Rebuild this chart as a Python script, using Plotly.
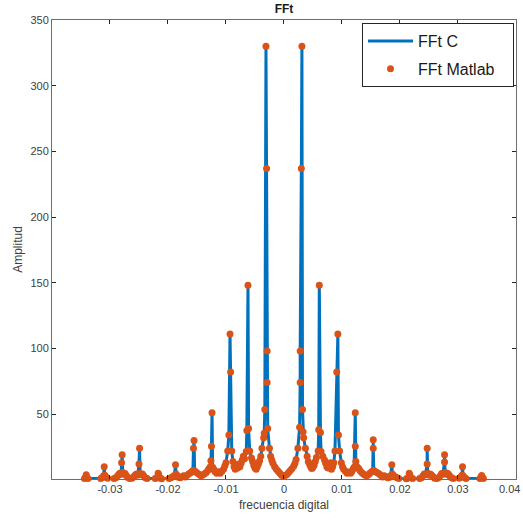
import plotly.graph_objects as go

# frequency (digital) of each FFT bin
freq = [
    -0.0344, -0.0342, -0.0341, -0.0340, -0.0338,
    -0.0316, -0.0313, -0.0311, -0.0310, -0.0309, -0.0307, -0.0304,
    -0.0293, -0.0290, -0.0287, -0.0285, -0.0283, -0.0281, -0.0280, -0.0279, -0.0278, -0.0276, -0.0274, -0.0272, -0.0269, -0.0266,
    -0.0262, -0.0259, -0.0256, -0.0254, -0.0252, -0.0250, -0.0249, -0.0248, -0.0246, -0.0244, -0.0242, -0.0239, -0.0236,
    -0.0222, -0.0219, -0.0217, -0.0216, -0.0214, -0.0211,
    -0.0198, -0.0195, -0.0192, -0.0189, -0.0187, -0.0186, -0.0184, -0.0182, -0.0179, -0.0176,
    -0.0173, -0.0170, -0.0167, -0.0164, -0.0161, -0.0159, -0.0157, -0.0156, -0.0155, -0.0154, -0.0152, -0.0149, -0.0146, -0.0143, -0.0140,
    -0.0137, -0.0134, -0.0131, -0.0129, -0.0127, -0.0126, -0.0125, -0.0124, -0.0123, -0.0121, -0.0119, -0.0116, -0.0113,
    -0.0110, -0.0107, -0.0104, -0.0102, -0.0100, -0.0097, -0.0095, -0.0093, -0.0092, -0.0090, -0.0088, -0.0086, -0.0084, -0.0082, -0.0080, -0.0078,
    -0.0076, -0.0074, -0.0072, -0.0070, -0.0068, -0.0065, -0.0064, -0.0062, -0.0061, -0.0059, -0.0056, -0.0054, -0.0052, -0.0050, -0.0048, -0.0046,
    -0.0044, -0.0042, -0.0040, -0.0038, -0.0035, -0.0034, -0.0033, -0.0031, -0.0030, -0.0029, -0.0029, -0.0028, -0.0025, -0.0023, -0.0021, -0.0019,
    -0.0016, -0.0013, -0.0010, -0.0007, -0.0004, -0.0001,
    0.0002, 0.0005, 0.0008, 0.0011, 0.0014, 0.0017, 0.0019, 0.0021, 0.0024, 0.0027, 0.0028, 0.0028, 0.0030, 0.0031, 0.0032, 0.0033,
    0.0034, 0.0037, 0.0040, 0.0042, 0.0044, 0.0046, 0.0048, 0.0050, 0.0052, 0.0054, 0.0056, 0.0059, 0.0060, 0.0061, 0.0063, 0.0064,
    0.0067, 0.0070, 0.0072, 0.0074, 0.0076, 0.0078, 0.0080, 0.0082, 0.0084, 0.0086, 0.0088, 0.0091, 0.0093, 0.0094, 0.0096, 0.0099,
    0.0101, 0.0103, 0.0106, 0.0109,
    0.0112, 0.0115, 0.0117, 0.0119, 0.0121, 0.0123, 0.0123, 0.0124, 0.0126, 0.0129, 0.0131, 0.0134, 0.0137,
    0.0140, 0.0143, 0.0146, 0.0148, 0.0151, 0.0153, 0.0154, 0.0154, 0.0155, 0.0158, 0.0161, 0.0164, 0.0167, 0.0170, 0.0173,
    0.0176, 0.0179, 0.0182, 0.0184, 0.0186, 0.0187, 0.0189, 0.0192, 0.0195, 0.0198,
    0.0211, 0.0214, 0.0216, 0.0217, 0.0219, 0.0222,
    0.0234, 0.0237, 0.0240, 0.0242, 0.0244, 0.0247, 0.0247, 0.0248, 0.0250, 0.0252, 0.0254, 0.0257, 0.0260,
    0.0264, 0.0267, 0.0270, 0.0272, 0.0274, 0.0277, 0.0277, 0.0278, 0.0280, 0.0282, 0.0284, 0.0286, 0.0289, 0.0292,
    0.0302, 0.0305, 0.0307, 0.0308, 0.0309, 0.0311, 0.0314,
    0.0338, 0.0340, 0.0341, 0.0342, 0.0344,
]

# amplitude of each bin (FFT computed in C)
amp_fft_c = [
    1.0, 2.0, 3.8, 2.2, 1.0,
    1.0, 1.8, 3.0, 10.0, 3.5, 2.2, 1.2,
    0.9, 1.5, 2.8, 4.0, 5.0, 4.2, 13.0, 19.0, 5.5, 4.5, 4.8, 3.2, 1.8, 1.0,
    1.2, 2.5, 3.8, 4.5, 3.5, 12.0, 24.0, 4.8, 4.0, 4.5, 3.0, 1.5, 0.9,
    0.9, 1.6, 5.0, 3.8, 1.4, 0.8,
    0.9, 1.5, 2.4, 3.2, 11.5, 4.4, 3.0, 2.0, 1.6, 2.4,
    3.0, 2.2, 3.4, 4.6, 5.4, 6.2, 7.0, 24.0, 30.0, 6.6, 6.0, 5.0, 4.0, 3.0, 3.6,
    4.6, 5.6, 7.2, 8.6, 10.0, 14.5, 25.5, 51.0, 9.5, 8.0, 6.4, 5.0, 6.2,
    5.0, 6.5, 8.2, 10.5, 13.0, 22.0, 34.0, 111.0, 82.0, 22.0, 14.0, 10.0, 8.0, 10.5, 9.0, 12.0,
    10.0, 12.5, 15.0, 18.0, 16.0, 21.5, 37.5, 148.0, 39.0, 22.0, 16.5, 14.0, 11.0, 9.0, 8.0, 10.0,
    12.0, 14.5, 18.0, 24.0, 32.0, 35.5, 53.5, 330.0, 237.0, 98.0, 74.0, 39.0, 24.0, 18.0, 15.0, 12.5,
    10.0, 8.0, 6.5, 5.0, 3.5, 2.8,
    3.2, 4.0, 5.5, 7.0, 8.5, 10.5, 12.5, 15.5, 24.0, 40.0, 74.0, 98.0, 237.0, 330.0, 53.5, 36.5,
    32.0, 24.0, 18.0, 14.0, 12.0, 10.0, 8.5, 9.5, 11.0, 14.0, 17.0, 22.0, 38.0, 148.0, 36.0, 21.5,
    18.0, 15.0, 12.5, 10.0, 9.0, 11.0, 13.0, 8.0, 10.0, 13.0, 22.0, 82.0, 111.0, 34.0, 22.0, 13.0,
    10.0, 8.0, 6.5, 5.0,
    6.0, 5.0, 6.4, 8.0, 9.5, 51.0, 25.5, 14.0, 10.0, 8.5, 7.0, 5.5, 4.5,
    3.5, 3.0, 4.0, 5.0, 6.0, 6.6, 30.5, 24.0, 7.0, 6.2, 5.4, 4.6, 3.4, 2.2, 3.0,
    2.4, 1.6, 2.0, 3.0, 11.5, 4.4, 3.2, 2.4, 1.5, 0.9,
    0.8, 1.4, 5.0, 3.8, 1.6, 0.9,
    0.9, 1.5, 3.0, 4.5, 4.0, 12.0, 24.0, 4.8, 3.5, 4.5, 3.8, 2.5, 1.2,
    1.0, 1.8, 3.2, 4.8, 4.5, 13.5, 19.0, 5.5, 4.2, 5.0, 4.0, 2.8, 1.5, 0.9,
    1.2, 2.2, 3.5, 10.0, 3.0, 1.8, 1.0,
    1.0, 2.2, 3.3, 2.0, 1.0,
]

# amplitude of each bin (FFT computed in Matlab) - identical readings
amp_fft_matlab = list(amp_fft_c)

x_ticks = [-0.03, -0.02, -0.01, 0, 0.01, 0.02, 0.03, 0.04]
x_tick_text = ["-0.03", "-0.02", "-0.01", "0", "0.01", "0.02", "0.03", ""]
x_last_label = "0.04"   # drawn slightly inward so it is not cut at the page edge
y_ticks = [50, 100, 150, 200, 250, 300, 350]

FONT = "Liberation Sans, Arial, Helvetica, sans-serif"
AX = "#262626"

fig = go.Figure()
fig.add_trace(go.Scatter(
    x=freq, y=amp_fft_c, mode="lines", name="FFt C", legendgroup="c",
    line=dict(color="#0072BD", width=3),
))
fig.add_trace(go.Scatter(
    x=freq, y=amp_fft_matlab, mode="markers", name="FFt Matlab&nbsp;&nbsp;&nbsp;",
    legendgroup="m",
    marker=dict(color="#D95319", size=7), cliponaxis=False,
))

axis_common = dict(
    showline=True, linecolor="#6e6e6e", linewidth=1, mirror="ticks",
    ticks="inside", ticklen=4, tickcolor=AX, tickwidth=1,
    showgrid=False, zeroline=False, automargin=False,
    tickfont=dict(family=FONT, size=11, color="#404040"),
)

fig.update_layout(
    width=523, height=520,
    margin=dict(l=52, r=7, t=20, b=41),
    paper_bgcolor="white", plot_bgcolor="white",
    font=dict(family=FONT, color=AX),
    title=dict(text="<b>FFt</b>", x=284 / 523, xanchor="center",
               y=1 - 9 / 520, yanchor="middle", yref="container",
               font=dict(size=12, color="#1a1a1a", family=FONT)),
    xaxis=dict(range=[-0.04, 0.04002], tickvals=x_ticks, ticktext=x_tick_text,
               title=dict(text="frecuencia digital", font=dict(size=12, family=FONT, color="#404040"), standoff=6),
               **axis_common),
    yaxis=dict(range=[0.6, 350], tickvals=y_ticks,
               title=dict(text="Amplitud", font=dict(size=12, family=FONT, color="#404040"), standoff=5),
               **axis_common),
    showlegend=True,
    legend=dict(x=0.9957, y=0.9935, xanchor="right", yanchor="top",
                bgcolor="white", bordercolor=AX, borderwidth=1,
                font=dict(size=16, family=FONT, color="#1a1a1a"),
                itemwidth=45, traceorder="grouped", tracegroupgap=4),
    annotations=[dict(text=x_last_label, xref="paper", yref="paper",
                      x=1.0, y=0, xanchor="right", yanchor="middle",
                      xshift=6, yshift=-10, showarrow=False,
                      font=dict(family=FONT, size=11, color="#404040"))],
)

fig.write_html("out.html", config={"displayModeBar": False},
               post_script="document.body.style.margin='0';document.body.style.overflow='hidden';")
